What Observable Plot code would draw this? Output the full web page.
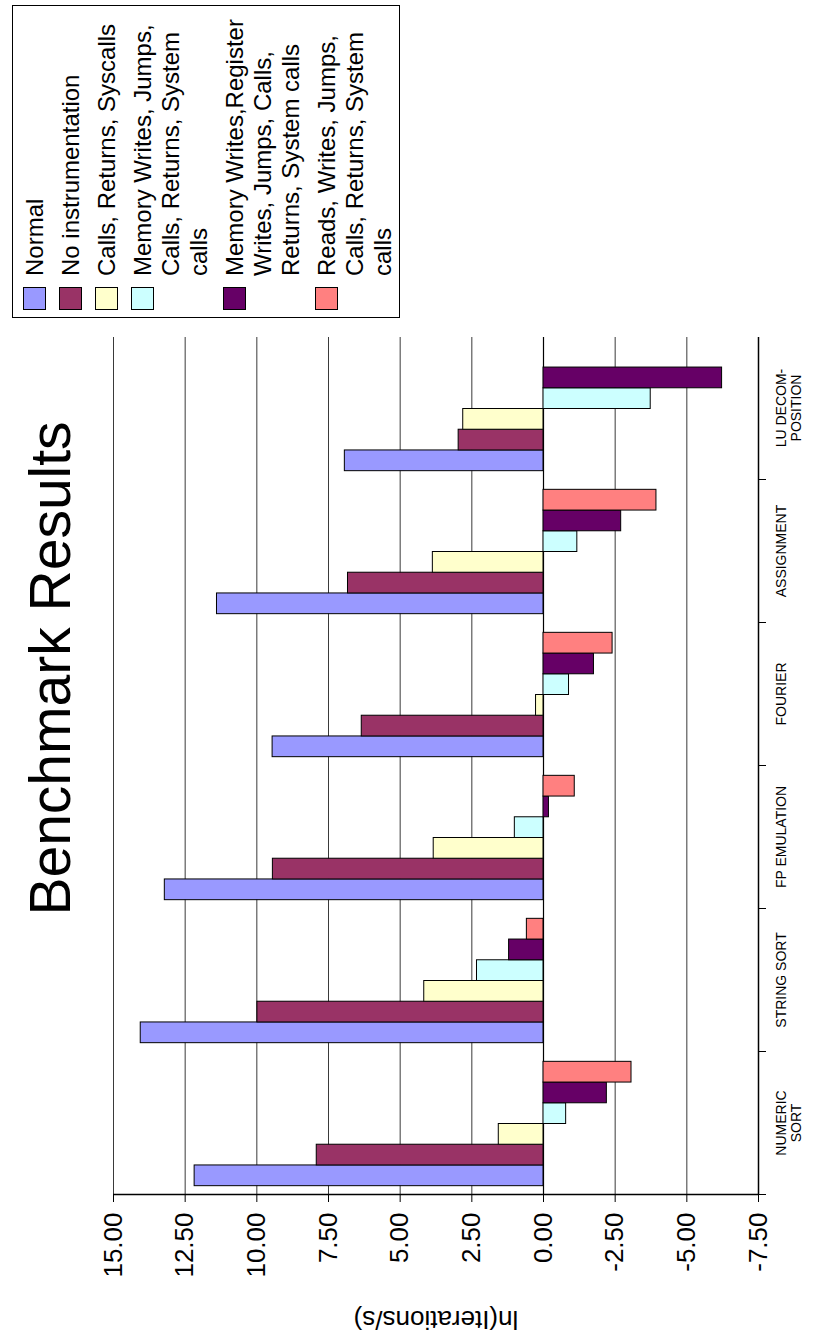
<!DOCTYPE html>
<html>
<head>
<meta charset="utf-8">
<script src="https://cdn.jsdelivr.net/npm/d3@7"></script>
<script src="https://cdn.jsdelivr.net/npm/@observablehq/plot@0.6"></script>
<style>
  html, body { margin: 0; padding: 0; background: #fff; }
  body { width: 813px; height: 1337px; overflow: hidden; position: relative; font-family: "Liberation Sans", Arial, sans-serif; }
  #wrap { position: absolute; left: 0; top: 0; width: 1337px; height: 813px; transform-origin: 0 0; transform: translateY(1337px) rotate(-90deg); background: #fff; }
  #chart { position: absolute; left: 0; top: 0; }
  #title { position: absolute; left: 0; top: 22px; width: 1337px; text-align: center; font-size: 57px; line-height: 1; color: #000; }
  #legend { position: absolute; left: 1019px; top: 12px; width: 313px; height: 388px; box-sizing: border-box; border: 1px solid #000; background: #fff; padding-top: 8px; }
  .entry { position: relative; margin-bottom: 8px; padding-left: 41px; font-size: 24px; line-height: 28px; color: #000; white-space: nowrap; }
  .sw { position: absolute; left: 7px; top: 2px; width: 23px; height: 23px; box-sizing: border-box; border: 1px solid #000; }
</style>
</head>
<body>
<div id="wrap">
  <div id="chart"></div>
  <div id="title"></div>
  <div id="legend"></div>
</div>
<script>
const titleText = "Benchmark Results";
const yLabel = "ln(Iterations/s)";
const categories = ["NUMERIC\nSORT", "STRING SORT", "FP EMULATION", "FOURIER", "ASSIGNMENT", "LU DECOM-\nPOSITION"];
const seriesNames = [
  "Normal",
  "No instrumentation",
  "Calls, Returns, Syscalls",
  "Memory Writes, Jumps, Calls, Returns, System calls",
  "Memory Writes,Register Writes, Jumps, Calls, Returns, System calls",
  "Reads, Writes, Jumps, Calls, Returns, System calls"
];
const legendLines = [
  ["Normal"],
  ["No instrumentation"],
  ["Calls, Returns, Syscalls"],
  ["Memory Writes, Jumps,", "Calls, Returns, System", "calls"],
  ["Memory Writes,Register", "Writes,  Jumps, Calls,", "Returns, System calls"],
  ["Reads, Writes, Jumps,", "Calls, Returns, System", "calls"]
];
const colors = ["#9999ff", "#993366", "#ffffcc", "#ccffff", "#660066", "#ff8080"];

const normal   = [12.17, 14.05, 13.21, 9.45, 11.39, 6.93];
const noInstr  = [7.91, 9.98, 9.44, 6.34, 6.82, 2.96];
const callsRet = [1.56, 4.16, 3.83, 0.26, 3.86, 2.80];
const memJumps = [-0.79, 2.32, 1.00, -0.89, -1.18, -3.74];
const memReg   = [-2.21, 1.20, -0.19, -1.76, -2.71, -6.23];
const readsWr  = [-3.07, 0.58, -1.09, -2.41, -3.94, null];
const seriesValues = [normal, noInstr, callsRet, memJumps, memReg, readsWr];

const yTicks = [-7.5, -5, -2.5, 0, 2.5, 5, 7.5, 10, 12.5, 15];

// sub-band layout of series inside each category slot (category i spans [i, i+1])
const sub = d3.scaleBand().domain(seriesNames).range([0, 1]).paddingInner(0).paddingOuter(0.45);

const rows = [];
categories.forEach((c, ci) => {
  seriesNames.forEach((s, si) => {
    const v = seriesValues[si][ci];
    if (v == null) return;
    rows.push({cat: c, ci, series: s, value: v});
  });
});

const boundaries = d3.range(categories.length);

const chart = Plot.plot({
  width: 1337,
  height: 813,
  marginLeft: 142,
  marginRight: 337,
  marginTop: 113,
  marginBottom: 55,
  x: {domain: [0, categories.length]},
  y: {domain: [-7.5, 15]},
  color: {domain: seriesNames, range: colors},
  style: {fontFamily: "'Liberation Sans', Arial, sans-serif", background: "white", color: "black"},
  marks: [
    Plot.ruleY(yTicks, {stroke: "#3a3a3a", strokeWidth: 1}),
    Plot.ruleY([0], {stroke: "#000", strokeWidth: 1.2}),
    Plot.rectY(rows, {
      x1: d => d.ci + sub(d.series),
      x2: d => d.ci + sub(d.series) + sub.bandwidth(),
      y1: 0,
      y2: "value",
      fill: "series",
      stroke: "#000",
      strokeWidth: 1
    }),
    Plot.ruleX([0], {stroke: "#000", strokeWidth: 1.5}),
    Plot.ruleY([-7.5], {stroke: "#000", strokeWidth: 1.5}),
    Plot.axisY({
      ticks: yTicks,
      tickSize: 7,
      tickPadding: 11,
      fontSize: 26,
      tickFormat: d => d.toFixed(2),
      label: null
    }),
    Plot.text([yLabel], {
      frameAnchor: "left",
      textAnchor: "middle",
      rotate: -90,
      dx: -125,
      fontSize: 26,
      text: d => d
    }),
    Plot.axisX({ticks: boundaries, tickSize: 8, tickFormat: () => "", label: null}),
    Plot.text(categories, {
      x: (d, i) => i + 0.5,
      frameAnchor: "bottom",
      dy: 17,
      lineAnchor: "top",
      lineHeight: 1.05,
      fontSize: 14,
      text: d => d
    })
  ]
});
document.getElementById("chart").appendChild(chart);
document.getElementById("title").textContent = titleText;

const legend = document.getElementById("legend");
seriesNames.forEach((s, i) => {
  const e = document.createElement("div");
  e.className = "entry";
  const sw = document.createElement("div");
  sw.className = "sw";
  sw.style.background = colors[i];
  e.appendChild(sw);
  legendLines[i].forEach((line, li) => {
    if (li > 0) e.appendChild(document.createElement("br"));
    e.appendChild(document.createTextNode(line));
  });
  legend.appendChild(e);
});
</script>
</body>
</html>
